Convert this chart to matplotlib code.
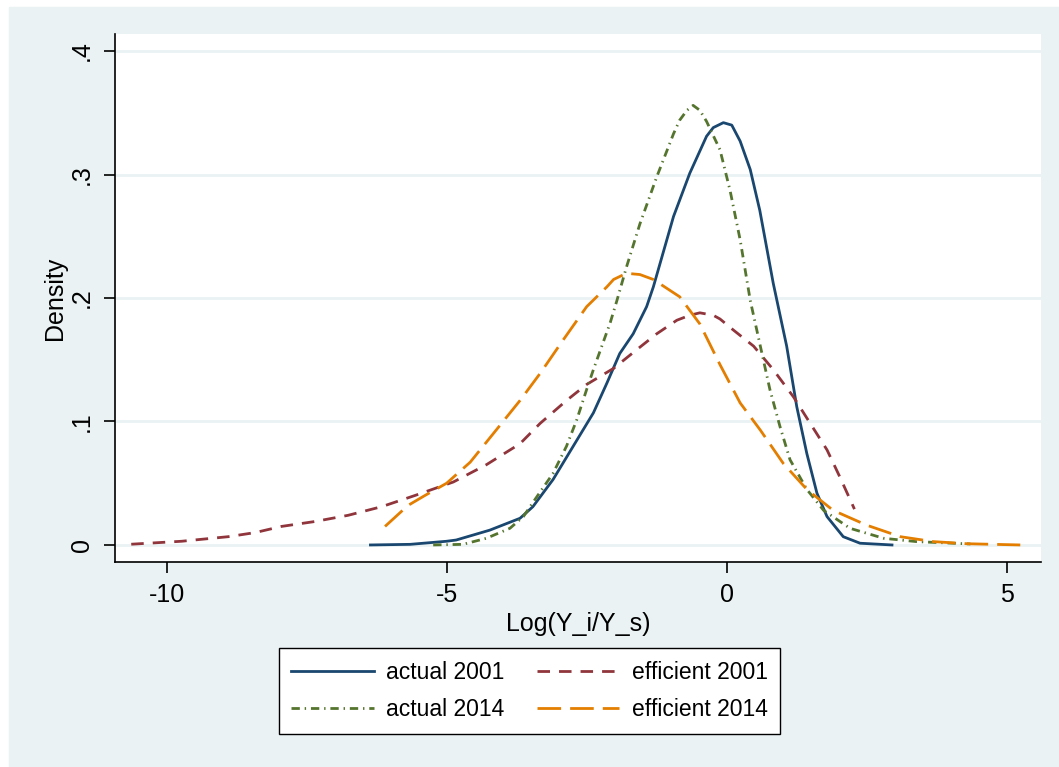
import matplotlib
matplotlib.use("Agg")
import matplotlib.pyplot as plt

plt.rcParams["font.family"] = ["Liberation Sans", "DejaVu Sans"]
plt.rcParams["lines.scale_dashes"] = False

# ── data (kernel densities of Log(Y_i/Y_s)) ────────────────────────────────
act01_x = [-6.36, -5.65, -5.0, -4.83, -4.23, -3.69, -3.46, -3.10, -2.74, -2.38,
           -2.14, -1.91, -1.67, -1.43, -1.31, -0.95, -0.66, -0.36, -0.24, -0.06,
           0.09, 0.24, 0.42, 0.59, 0.83, 1.07, 1.25, 1.43, 1.61, 1.79, 2.08, 2.38, 2.95]
act01_y = [0.0, 0.0005, 0.003, 0.004, 0.012, 0.0216, 0.031, 0.053, 0.080, 0.107,
           0.131, 0.155, 0.171, 0.193, 0.209, 0.266, 0.301, 0.331, 0.338, 0.342,
           0.340, 0.327, 0.304, 0.271, 0.212, 0.161, 0.112, 0.074, 0.042, 0.023,
           0.0067, 0.0014, 0.0]

act14_x = [-5.24, -4.71, -4.29, -3.87, -3.63, -3.39, -3.10, -2.86, -2.68, -2.50,
           -2.38, -2.23, -2.08, -1.96, -1.79, -1.55, -1.25, -0.95, -0.84, -0.71,
           -0.60, -0.48, -0.36, -0.12, 0.06, 0.24, 0.42, 0.60, 0.77, 0.95, 1.13,
           1.43, 1.73, 2.20, 2.80, 3.39, 4.35]
act14_y = [0.0, 0.0005, 0.0054, 0.0135, 0.023, 0.039, 0.058, 0.080, 0.101, 0.126,
           0.142, 0.161, 0.180, 0.198, 0.225, 0.260, 0.298, 0.333, 0.344, 0.352,
           0.356, 0.352, 0.343, 0.320, 0.287, 0.247, 0.198, 0.161, 0.126, 0.096,
           0.069, 0.045, 0.028, 0.0135, 0.0054, 0.0027, 0.0008]

eff01_x = [-10.63, -9.73, -8.90, -8.42, -7.95, -7.35, -6.76, -6.16, -5.57, -4.88,
           -4.29, -3.69, -3.33, -2.86, -2.50, -2.02, -1.61, -1.25, -0.89, -0.66,
           -0.48, -0.24, -0.12, 0.12, 0.48, 0.83, 1.19, 1.49, 1.79, 2.02, 2.28]
eff01_y = [0.0006, 0.003, 0.0067, 0.010, 0.015, 0.019, 0.024, 0.031, 0.040, 0.051,
           0.065, 0.082, 0.0985, 0.117, 0.130, 0.143, 0.158, 0.171, 0.182, 0.186,
           0.188, 0.186, 0.183, 0.174, 0.161, 0.142, 0.120, 0.0985, 0.077, 0.055, 0.029]

eff14_x = [-6.10, -5.69, -5.39, -5.0, -4.58, -4.17, -3.69, -3.33, -2.92, -2.50,
           -2.14, -2.02, -1.79, -1.55, -1.31, -0.84, -0.48, -0.12, 0.24, 0.60,
           1.01, 1.43, 1.90, 2.50, 3.10, 3.69, 4.29, 5.24]
eff14_y = [0.015, 0.032, 0.040, 0.050, 0.067, 0.090, 0.117, 0.139, 0.166, 0.193,
           0.209, 0.215, 0.220, 0.219, 0.215, 0.201, 0.179, 0.146, 0.115, 0.093,
           0.066, 0.045, 0.028, 0.016, 0.0067, 0.0027, 0.001, 0.0]

x_ticks = [-10, -5, 0, 5]
y_ticks = [0, 0.1, 0.2, 0.3, 0.4]
y_tick_labels = ["0", ".1", ".2", ".3", ".4"]

# ── figure ───────────────────────────────────────────────────────────────────
fig = plt.figure(figsize=(10.59, 7.67), dpi=100, facecolor="white")
bg = plt.Rectangle((9 / 1059, 0), 1, 1 - 7 / 767, transform=fig.transFigure,
                   color="#EAF2F3", zorder=-10)
fig.patches.append(bg)
ax = fig.add_axes([115 / 1059, 1 - 562 / 767, (1041 - 115) / 1059, (562 - 34) / 767])
ax.set_facecolor("white")

ax.plot(act01_x, act01_y, color="#1A476F", lw=2.0, label="actual 2001")
ax.plot(eff01_x, eff01_y, color="#90353B", lw=2.0, dashes=(9, 6.5),
        label="efficient 2001")
ax.plot(act14_x, act14_y, color="#55752F", lw=2.0, dashes=(6, 3.5, 1, 3.5),
        label="actual 2014")
ax.plot(eff14_x, eff14_y, color="#E37E00", lw=2.0, dashes=(17, 6.5),
        label="efficient 2014")

ax.set_xlim(-10.92, 5.61)
ax.set_ylim(-0.0138, 0.4138)
ax.set_xticks(x_ticks)
ax.set_xticklabels([str(t) for t in x_ticks])
ax.set_yticks(y_ticks)
ax.set_yticklabels(y_tick_labels, rotation=90, va="center")
ax.grid(axis="y", color="#EAF2F3", lw=2)
ax.set_axisbelow(True)

for side in ("top", "right"):
    ax.spines[side].set_visible(False)
for side in ("left", "bottom"):
    ax.spines[side].set_color("black")
    ax.spines[side].set_linewidth(1.2)
ax.tick_params(direction="out", length=8, width=1.2, labelsize=18, pad=7)

ax.set_xlabel("Log(Y_i/Y_s)", fontsize=18, labelpad=4)
ax.set_ylabel("Density", fontsize=18, labelpad=2)

handles, labels = ax.get_legend_handles_labels()
order = [0, 2, 1, 3]
leg = fig.legend([handles[i] for i in order], [labels[i] for i in order],
                 loc="upper center", bbox_to_anchor=(0.5, 1 - 648 / 767),
                 ncol=2, fontsize=16.5, frameon=True, fancybox=False,
                 handlelength=3.6, handletextpad=0.55, columnspacing=1.4,
                 borderpad=0.55, labelspacing=0.65, framealpha=1,
                 borderaxespad=0)
leg.get_frame().set_edgecolor("black")
leg.get_frame().set_facecolor("white")
leg.get_frame().set_linewidth(1.0)

plt.savefig("out.png", dpi=100, facecolor=fig.get_facecolor())
plt.close()
